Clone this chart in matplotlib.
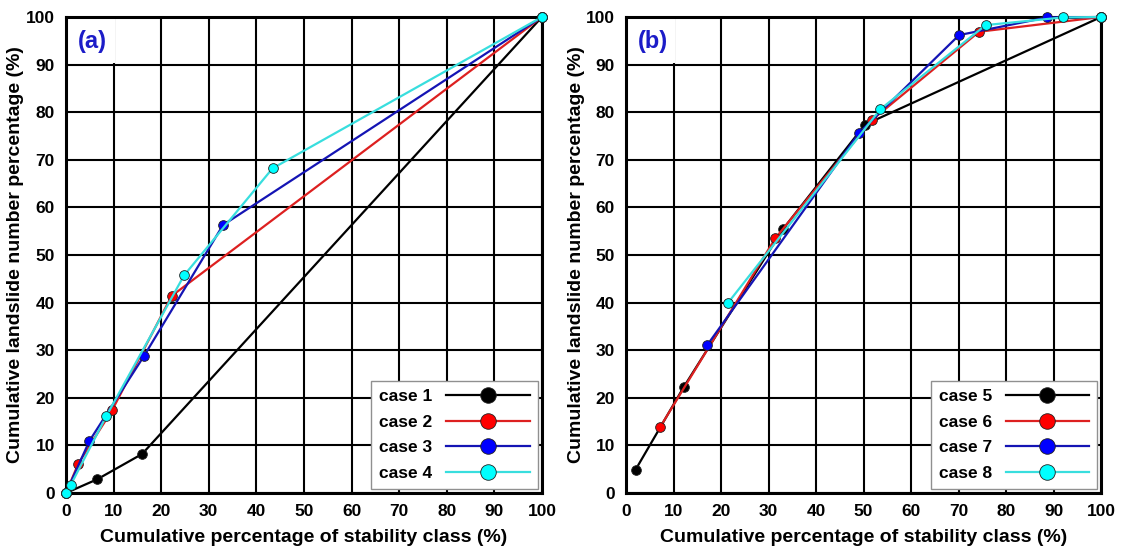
import matplotlib.pyplot as plt
from matplotlib.patches import Rectangle
import numpy as np

plt.rcParams['font.family'] = ['Liberation Sans', 'DejaVu Sans']
plt.rcParams['font.weight'] = 'bold'

# --------------------
# data (x: cumulative % of stability class, y: cumulative % of landslides)
case1_x = [0, 6.6, 16.0, 100]
case1_y = [0, 2.9, 8.2, 100]
case2_x = [0, 2.6, 9.7, 22.2, 100]
case2_y = [0, 6.2, 17.4, 41.4, 100]
case3_x = [0, 4.9, 16.4, 33.0, 100]
case3_y = [0, 10.9, 28.8, 56.3, 100]
case4_x = [0, 1.0, 8.5, 24.8, 43.4, 100]
case4_y = [0, 1.7, 16.2, 45.7, 68.2, 100]

case5_x = [2.0, 12.1, 33.0, 50.3, 100]
case5_y = [4.9, 22.2, 55.4, 77.4, 100]
case6_x = [7.2, 31.4, 51.8, 74.3, 100]
case6_y = [13.9, 53.5, 78.4, 96.9, 100]
case7_x = [17.1, 49.1, 70.1, 88.6, 100]
case7_y = [31.1, 75.7, 96.2, 99.9, 100]
case8_x = [21.5, 53.5, 75.7, 91.9, 100]
case8_y = [40.0, 80.6, 98.3, 99.9, 100]

line_colors = ['black', '#dd2020', '#1414b4', '#38dede']
face_colors = ['black', '#ff0000', '#0000ff', '#00ffff']
ticks = np.arange(0, 101, 10)

panels = [
    ("(a)", ["case 1", "case 2", "case 3", "case 4"],
     [(case1_x, case1_y), (case2_x, case2_y), (case3_x, case3_y), (case4_x, case4_y)]),
    ("(b)", ["case 5", "case 6", "case 7", "case 8"],
     [(case5_x, case5_y), (case6_x, case6_y), (case7_x, case7_y), (case8_x, case8_y)]),
]

fig = plt.figure(figsize=(11.22, 5.5), dpi=100)
axes = [fig.add_axes([0.0588, 0.1036, 0.4242, 0.8655]),
        fig.add_axes([0.5580, 0.1036, 0.4234, 0.8655])]

for ax, (tag, names, series) in zip(axes, panels):
    for i, (xs, ys) in enumerate(series):
        ax.plot(xs, ys, color=line_colors[i], lw=1.6, marker='o', ms=7,
                mfc=face_colors[i], mec='#202020', mew=0.6, label=names[i],
                zorder=3 + i, clip_on=False)
    ax.set_xlim(0, 100)
    ax.set_ylim(0, 100)
    ax.set_xticks(ticks)
    ax.set_yticks(ticks)
    ax.grid(True, color='black', lw=1.5)
    ax.set_axisbelow(True)
    ax.tick_params(direction='in', length=5, width=1.2, labelsize=12.5, pad=8)
    for s in ax.spines.values():
        s.set_linewidth(2.2)
    ax.set_xlabel("Cumulative percentage of stability class (%)", fontsize=14,
                  fontweight='bold', labelpad=7)
    ax.set_ylabel("Cumulative landslide number percentage (%)", fontsize=14,
                  fontweight='bold', labelpad=1)
    # white patch behind the panel tag hides the grid in that cell
    ax.add_patch(Rectangle((0, 90.35), 10.4, 9.65, facecolor='white',
                           edgecolor='none', zorder=1))
    ax.text(2.5, 94.8, tag, color='#1c1cc8', fontsize=17, fontweight='bold',
            va='center', ha='left', zorder=10)
    leg = ax.legend(loc='lower right', markerfirst=False, fancybox=False,
                    framealpha=1, edgecolor='#909090', fontsize=12.5,
                    handlelength=4.8, markerscale=1.6, borderpad=0.45,
                    labelspacing=0.6, handletextpad=0.8, borderaxespad=0.25)
    leg.get_frame().set_linewidth(1.0)
    leg.set_zorder(20)

fig.savefig("out.png", dpi=100)
